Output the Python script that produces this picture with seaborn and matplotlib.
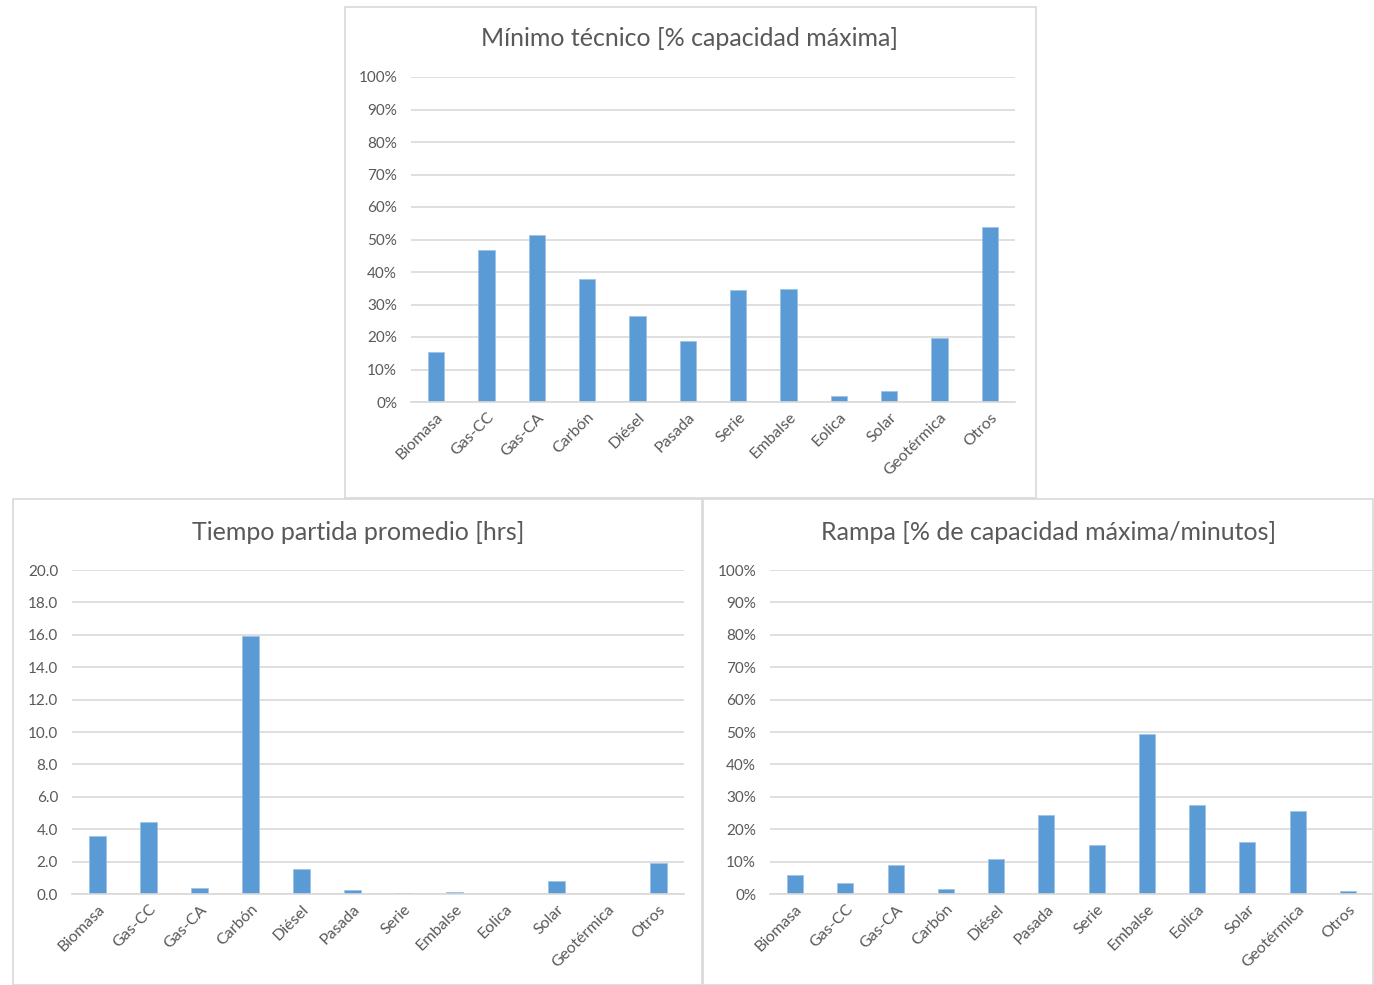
import matplotlib
matplotlib.use("Agg")
import matplotlib.pyplot as plt
from matplotlib.patches import Rectangle
from matplotlib.ticker import FuncFormatter, MultipleLocator
import pandas as pd
import seaborn as sns

tecnologias = ["Biomasa", "Gas-CC", "Gas-CA", "Carbón", "Diésel", "Pasada",
               "Serie", "Embalse", "Eolica", "Solar", "Geotérmica", "Otros"]

minimo_tecnico = [15.5, 46.7, 51.5, 37.9, 26.5, 18.9, 34.5, 34.9, 1.9, 3.4, 19.8, 54.0]
tiempo_partida = [3.55, 4.45, 0.4, 15.9, 1.55, 0.23, 0.08, 0.12, 0.0, 0.8, 0.0, 1.9]
rampa = [5.8, 3.3, 9.0, 1.6, 10.7, 24.3, 15.2, 49.3, 27.4, 16.0, 25.5, 1.0]

titulos = ["Mínimo técnico [% capacidad máxima]",
           "Tiempo partida promedio [hrs]",
           "Rampa [% de capacidad máxima/minutos]"]

sns.set_theme(style="white")
plt.rcParams["font.family"] = ["Lato", "DejaVu Sans"]

BAR = "#5B9BD5"
GRID = "#D9D9D9"
TXT = "#595959"

W, H = 1374, 985
fig = plt.figure(figsize=(W / 100, H / 100), dpi=100)


def px_rect(x0, y0, x1, y1):
    return [x0 / W, 1 - y1 / H, (x1 - x0) / W, (y1 - y0) / H]


# panel frames
for (x0, y0, x1, y1) in [(345, 7, 1036, 498), (13, 499, 702, 985), (703, 499, 1373, 985)]:
    fig.patches.append(Rectangle((x0 / W, 1 - y1 / H), (x1 - x0) / W, (y1 - y0) / H,
                                 transform=fig.transFigure, fill=False,
                                 edgecolor=GRID, linewidth=1.2))

paneles = [
    dict(vals=minimo_tecnico, area=(411, 77, 1015, 402), ymax=100, step=10,
         fmt=lambda v, p: f"{v:.0f}%", title=titulos[0], ty=39, tx=690),
    dict(vals=tiempo_partida, area=(72, 570, 684, 894), ymax=20, step=2,
         fmt=lambda v, p: f"{v:.1f}", title=titulos[1], ty=532, tx=358),
    dict(vals=rampa, area=(770, 570, 1373, 894), ymax=100, step=10,
         fmt=lambda v, p: f"{v:.0f}%", title=titulos[2], ty=532, tx=1049),
]

for p in paneles:
    ax = fig.add_axes(px_rect(*p["area"]))
    df = pd.DataFrame({"tec": tecnologias, "valor": p["vals"]})
    sns.barplot(data=df, x="tec", y="valor", color=BAR, saturation=1,
                width=0.32, ax=ax, edgecolor="#9DC3E6", linewidth=0.6)
    ax.set_ylim(0, p["ymax"])
    ax.set_xlim(-0.5, len(tecnologias) - 0.5)
    ax.yaxis.set_major_locator(MultipleLocator(p["step"]))
    ax.yaxis.set_major_formatter(FuncFormatter(p["fmt"]))
    ax.grid(axis="y", color=GRID, linewidth=1.2)
    ax.set_axisbelow(True)
    for s in ["top", "right", "left"]:
        ax.spines[s].set_visible(False)
    ax.spines["bottom"].set_color(GRID)
    ax.spines["bottom"].set_linewidth(1.2)
    ax.set_xlabel("")
    ax.set_ylabel("")
    ax.tick_params(axis="y", length=0, pad=10, labelsize=11, labelcolor=TXT)
    ax.tick_params(axis="x", length=0, pad=6, labelsize=11.5, labelcolor=TXT)
    plt.setp(ax.get_xticklabels(), rotation=45, ha="right", rotation_mode="anchor")
    fig.text(p["tx"] / W, 1 - p["ty"] / H, p["title"], ha="center", va="center",
             fontsize=18, color=TXT)

fig.savefig("out.png", dpi=100, facecolor="white")
